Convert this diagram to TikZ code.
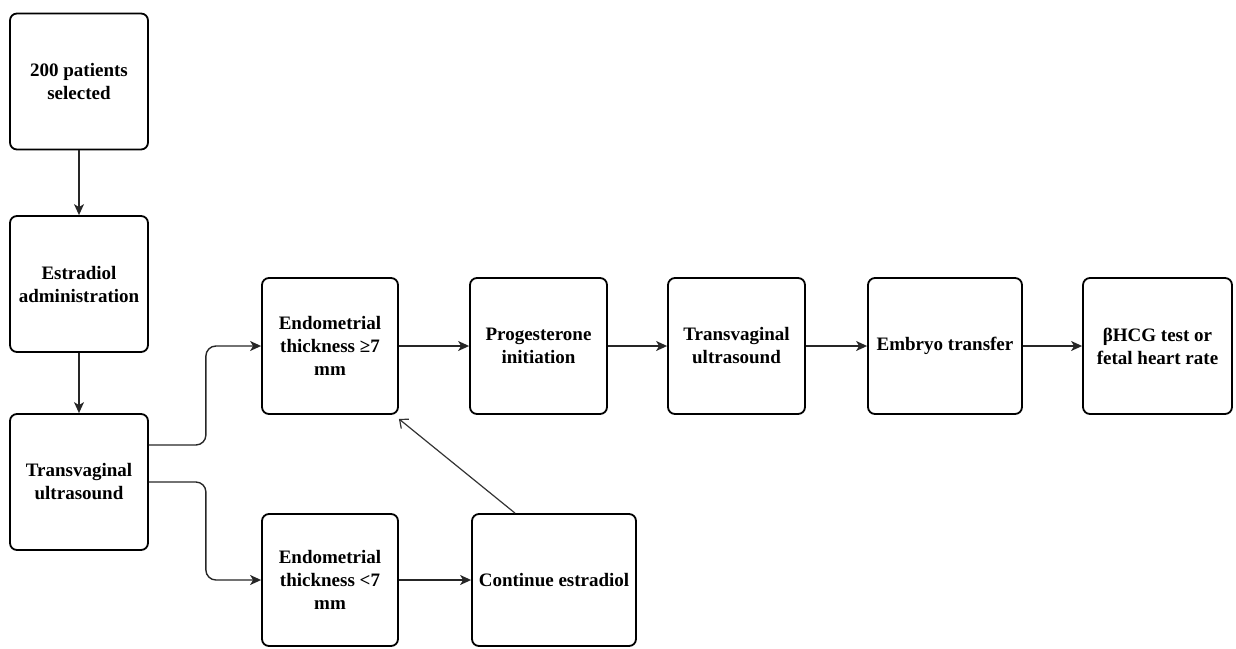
\documentclass[tikz,border=0pt]{standalone}
\usepackage{fontspec}
\setmainfont{Liberation Serif}
\usetikzlibrary{positioning,arrows.meta}

\begin{document}
\begin{tikzpicture}[x=1pt,y=-1pt,
	>={Stealth[length=11pt,width=10pt,inset=3pt]},
	box/.style={draw,line width=1.8pt,rounded corners=7pt,align=center,
		font=\bfseries\fontsize{19}{23}\selectfont,inner sep=0pt,
		minimum height=136pt},
	flow/.style={->,line width=1.4pt,draw=black!85,rounded corners=10pt},
	back/.style={-{Straight Barb[length=7pt,width=12pt]},line width=1.2pt,draw=black!80}]
	\useasboundingbox (0,0) rectangle (1236,648);
	% left column
	\node[box,minimum width=138pt] (sel)  at (79,81.5) {200 patients\\selected};
	\node[box,minimum width=138pt] (estr) at (79,284)  {Estradiol\\administration};
	\node[box,minimum width=138pt] (tvl)  at (79,482)  {Transvaginal\\ultrasound};
	% main row
	\node[box,minimum width=136pt] (thk)  at (330,346)    {Endometrial\\thickness ≥7\\mm};
	\node[box,minimum width=137pt] (prog) at (538.5,346)  {Progesterone\\initiation};
	\node[box,minimum width=137pt] (tvu)  at (736.5,346)  {Transvaginal\\ultrasound};
	\node[box,minimum width=154pt] (emb)  at (945,346)    {Embryo transfer};
	\node[box,minimum width=149pt] (hcg)  at (1157.5,346) {βHCG test or\\fetal heart rate};
	% lower row
	\node[box,minimum width=136pt,minimum height=132pt] (thl)  at (330,580) {Endometrial\\thickness <7\\mm};
	\node[box,minimum width=164pt,minimum height=132pt] (cont) at (554,580) {Continue estradiol};

	\draw[flow] (sel) -- (estr);
	\draw[flow] (estr) -- (tvl);
	\draw[flow] ([yshift=37pt]tvl.east) -- ++(57,0) |- (thk.west);
	\draw[flow] (tvl.east) -- ++(57,0) |- (thl.west);
	\draw[flow] (thk) -- (prog);
	\draw[flow] (prog) -- (tvu);
	\draw[flow] (tvu) -- (emb);
	\draw[flow] (emb) -- (hcg);
	\draw[flow] (thl) -- (cont);
	\draw[back] ([xshift=-39pt]cont.north) -- ([yshift=-4pt]thk.south east);
\end{tikzpicture}
\end{document}
